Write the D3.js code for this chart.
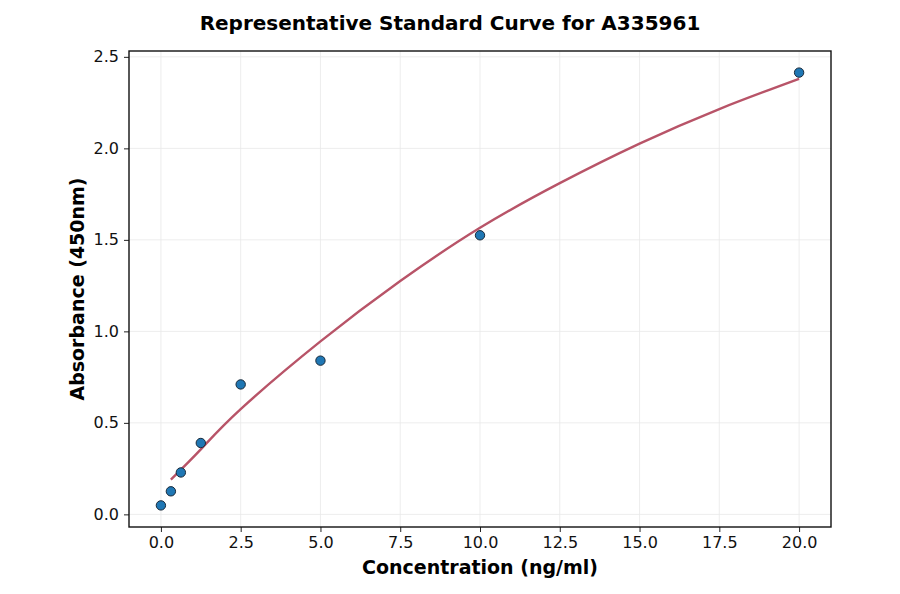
<!DOCTYPE html>
<html>
<head>
<meta charset="utf-8">
<script src="https://cdn.jsdelivr.net/npm/d3@7"></script>
<style>
  body { margin: 0; background: #fff; }
  svg { display: block; font-family: "DejaVu Sans", sans-serif; }
</style>
</head>
<body>
<svg id="chart" width="900" height="594"></svg>
<script>
// standards
var concentrations = [0, 0.3125, 0.625, 1.25, 2.5, 5, 10, 20];
var absorbances = [0.049, 0.126, 0.229, 0.39, 0.71, 0.84, 1.525, 2.414];

// fitted curve
var curveX = [0.3125, 1.25, 2.5, 5, 7.5, 10, 12.5, 15, 17.5, 20];
var curveY = [0.19, 0.355, 0.575, 0.945, 1.275, 1.566, 1.81, 2.026, 2.215, 2.38];

var xTicks = [0, 2.5, 5, 7.5, 10, 12.5, 15, 17.5, 20];
var yTicks = [0, 0.5, 1.0, 1.5, 2.0, 2.5];

var TITLE = "Representative Standard Curve for A335961";
var X_LABEL = "Concentration (ng/ml)";
var Y_LABEL = "Absorbance (450nm)";

var margin = {left: 129, top: 51, right: 69, bottom: 67};
var W = 900, H = 594;
var width = W - margin.left - margin.right;
var height = H - margin.top - margin.bottom;

var svg = d3.select("#chart");

var x = d3.scaleLinear().domain([-1, 21]).range([0, width]);
var y = d3.scaleLinear().domain([-0.069, 2.532]).range([height, 0]);

var g = svg.append("g")
    .attr("transform", "translate(" + margin.left + "," + margin.top + ")");

// grid
g.append("g").selectAll("line").data(xTicks).enter().append("line")
    .attr("x1", function(d){ return x(d); })
    .attr("x2", function(d){ return x(d); })
    .attr("y1", 0).attr("y2", height)
    .style("stroke", "#e8e8e8").style("stroke-width", 0.8);
g.append("g").selectAll("line").data(yTicks).enter().append("line")
    .attr("y1", function(d){ return y(d); })
    .attr("y2", function(d){ return y(d); })
    .attr("x1", 0).attr("x2", width)
    .style("stroke", "#e8e8e8").style("stroke-width", 0.8);

// axes
var xAxis = g.append("g")
    .attr("transform", "translate(0," + height + ")")
    .call(d3.axisBottom(x).tickValues(xTicks).tickFormat(d3.format(".1f")).tickSize(5).tickPadding(5));
var yAxis = g.append("g")
    .call(d3.axisLeft(y).tickValues(yTicks).tickFormat(d3.format(".1f")).tickSize(5).tickPadding(5));

[xAxis, yAxis].forEach(function(a){
    a.select(".domain").remove();
    a.selectAll("line").style("stroke", "#222").style("stroke-width", 1);
    a.selectAll("text")
        .style("font-family", "DejaVu Sans, sans-serif")
        .style("font-size", "16px")
        .style("fill", "#111");
});

// fitted curve
var pts = curveX.map(function(d, i){ return [d, curveY[i]]; });
var line = d3.line()
    .x(function(d){ return x(d[0]); })
    .y(function(d){ return y(d[1]); })
    .curve(d3.curveNatural);

g.append("path")
    .datum(pts)
    .attr("d", line)
    .style("fill", "none")
    .style("stroke", "#b85468")
    .style("stroke-width", 2.4);

// standard points
g.append("g").selectAll("circle")
    .data(concentrations)
    .enter().append("circle")
    .attr("cx", function(d){ return x(d); })
    .attr("cy", function(d, i){ return y(absorbances[i]); })
    .attr("r", 4.7)
    .style("fill", "#1f77b4")
    .style("stroke", "#1a2a3a")
    .style("stroke-width", 1);

// frame
g.append("rect")
    .attr("x", 0).attr("y", 0)
    .attr("width", width).attr("height", height)
    .style("fill", "none")
    .style("stroke", "#111")
    .style("stroke-width", 1.4);

// texts
svg.append("text")
    .attr("x", 450).attr("y", 30)
    .attr("text-anchor", "middle")
    .style("font-size", "20px").style("font-weight", "bold")
    .text(TITLE);

svg.append("text")
    .attr("x", margin.left + width / 2).attr("y", 574)
    .attr("text-anchor", "middle")
    .style("font-size", "19px").style("font-weight", "bold")
    .text(X_LABEL);

svg.append("text")
    .attr("transform", "translate(84," + (margin.top + height / 2) + ") rotate(-90)")
    .attr("text-anchor", "middle")
    .style("font-size", "19px").style("font-weight", "bold")
    .text(Y_LABEL);
</script>
</body>
</html>
